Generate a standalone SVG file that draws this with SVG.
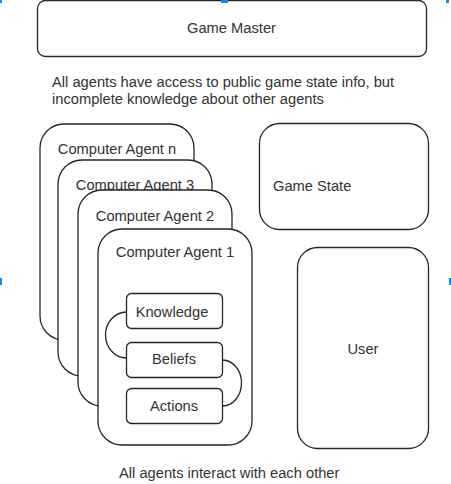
<svg xmlns="http://www.w3.org/2000/svg" width="451" height="484" viewBox="0 0 451 484">
<style>
.box{fill:#fff;stroke:#262626;stroke-width:1.3}
.card{fill:#fff;stroke:#262626;stroke-width:1.3}
.t{font-family:"Liberation Sans",Arial,sans-serif;font-size:14.7px;fill:#333}
.m{text-anchor:middle}
.c{fill:none;stroke:#262626;stroke-width:1.3}
.h{fill:#1e88e5}
</style>
<rect width="451" height="484" fill="#fff"/>
<g id="game-master">
<rect class="box" x="37.5" y="0.5" width="389" height="56" rx="8"/>
<text class="t m" x="231.5" y="33">Game Master</text>
</g>
<g id="note-top">
<text class="t" x="52" y="87">All agents have access to public game state info, but</text>
<text class="t" x="52" y="104">incomplete knowledge about other agents</text>
</g>
<g id="agent-n">
<rect class="card" x="40" y="124" width="154" height="216" rx="24"/>
<text class="t m" x="117" y="154">Computer Agent n</text>
</g>
<g id="agent-3">
<rect class="card" x="58" y="160" width="154" height="216" rx="24"/>
<text class="t m" x="135" y="190">Computer Agent 3</text>
</g>
<g id="agent-2">
<rect class="card" x="78" y="190" width="154" height="216" rx="24"/>
<text class="t m" x="155" y="221">Computer Agent 2</text>
</g>
<g id="agent-1">
<rect class="card" x="98" y="229" width="154" height="216" rx="24"/>
<text class="t m" x="175" y="257">Computer Agent 1</text>
</g>
<g id="knowledge">
<rect class="box" x="126.5" y="293.5" width="96" height="35" rx="5"/>
<text class="t m" x="172" y="317">Knowledge</text>
</g>
<g id="beliefs">
<rect class="box" x="126.5" y="342.5" width="96" height="35" rx="5"/>
<text class="t m" x="174" y="364">Beliefs</text>
</g>
<g id="actions">
<rect class="box" x="126.5" y="388.5" width="96" height="35" rx="5"/>
<text class="t m" x="174" y="411">Actions</text>
</g>
<g id="connectors">
<path class="c" d="M126.5,312 A21,23 0 0 0 126.5,358"/>
<path class="c" d="M222.5,360 A19,23 0 0 1 222.5,406"/>
</g>
<g id="game-state">
<rect class="box" x="259.5" y="123.5" width="169" height="106" rx="20"/>
<text class="t" x="273" y="191">Game State</text>
</g>
<g id="user">
<rect class="box" x="297.5" y="247.5" width="131" height="201" rx="20"/>
<text class="t m" x="363" y="354">User</text>
</g>
<g id="note-bottom">
<text class="t" x="119" y="478">All agents interact with each other</text>
</g>
<g id="handles">
<rect class="h" x="0" y="0" width="2" height="3"/>
<rect class="h" x="221" y="0" width="7" height="3"/>
<rect class="h" x="446" y="0" width="3" height="3"/>
<rect class="h" x="0" y="278" width="2" height="7"/>
<rect class="h" x="449" y="278" width="2" height="7"/>
</g>
</svg>
